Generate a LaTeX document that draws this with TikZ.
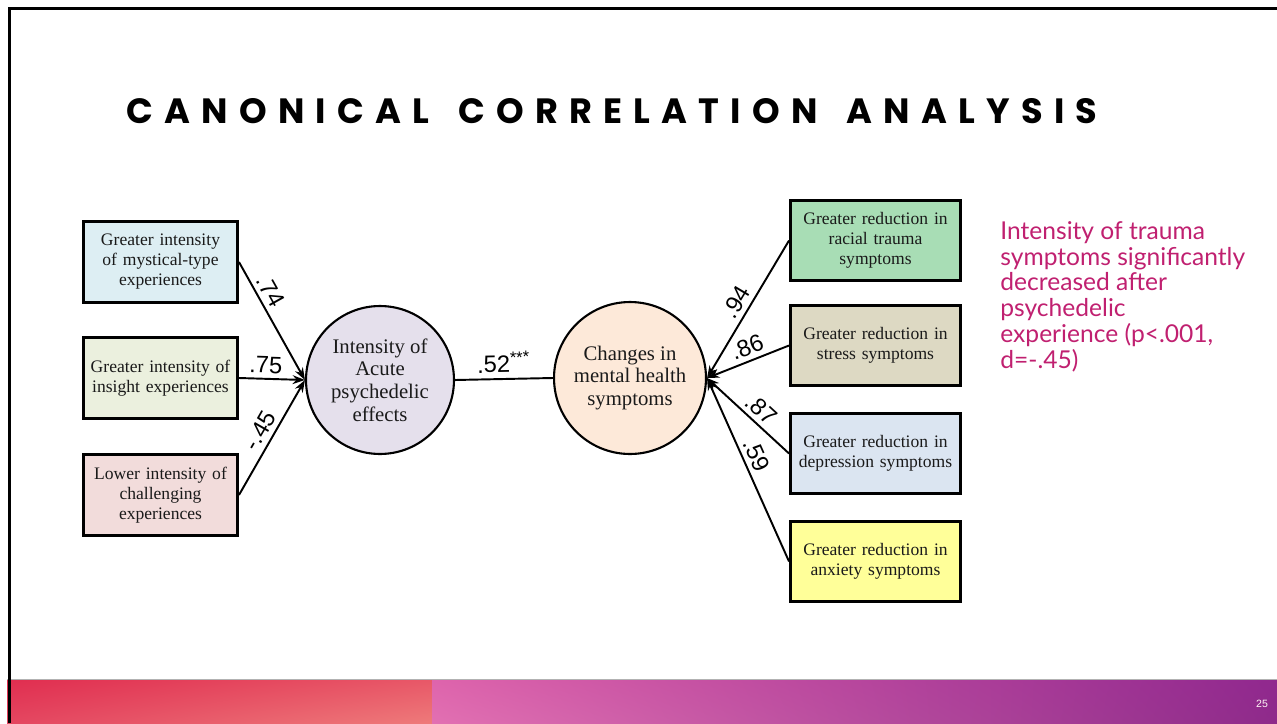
\documentclass[tikz,border=0pt]{standalone}
\usepackage{fontspec}
\setmainfont{Liberation Serif}
\newfontfamily\numfont{Liberation Sans}
\newfontfamily\titlefont[LetterSpace=32, WordSpace=1.55]{Poppins}
\newfontfamily\notefont{Lato}
\usetikzlibrary{arrows.meta, shadings}

\definecolor{boxtext}{HTML}{1A1A1A}
\definecolor{mysticfill}{HTML}{DDEEF3}
\definecolor{insightfill}{HTML}{EBF0DE}
\definecolor{challfill}{HTML}{F2DCDB}
\definecolor{acutefill}{HTML}{E5E0EC}
\definecolor{mentalfill}{HTML}{FDE9D9}
\definecolor{racialfill}{HTML}{A8DDB5}
\definecolor{stressfill}{HTML}{DDD9C3}
\definecolor{depressfill}{HTML}{DBE5F1}
\definecolor{anxietyfill}{HTML}{FFFF99}
\definecolor{notecolor}{RGB}{192,32,112}
\definecolor{barA}{RGB}{224,46,80}
\definecolor{barB}{RGB}{232,88,104}
\definecolor{barC}{RGB}{228,70,96}
\definecolor{barD}{RGB}{238,122,122}
\definecolor{barE}{RGB}{222,100,172}
\definecolor{barF}{RGB}{144,40,142}
\definecolor{barG}{RGB}{226,112,178}
\definecolor{barH}{RGB}{142,42,138}

\begin{document}
\begin{tikzpicture}[x=0.02cm, y=-0.02cm,
    varbox/.style={draw, line width=1.7pt, align=center, inner sep=0pt,
        text=boxtext, font=\fontsize{10}{11.4}\selectfont},
    leftbox/.style={varbox, minimum width=3.08cm, minimum height=1.62cm, text width=2.95cm},
    rightbox/.style={varbox, minimum width=3.4cm, minimum height=1.6cm, text width=3.4cm},
    latent/.style={circle, draw, line width=1.2pt, align=center, inner sep=0pt,
        text=boxtext, font=\fontsize{11.8}{12.9}\selectfont},
    path/.style={line width=1.1pt, -{Stealth[length=7pt, width=5pt]}},
    weight/.style={font=\numfont\fontsize{13.5}{15}\selectfont, inner sep=2.6pt, sloped, above}]
    \useasboundingbox (0,0) rectangle (1277,723);

    % Frame of the slide
    \draw[line width=1.7pt] (9.5,723) -- (9.5,8.5) -- (1277,8.5);

    % Title
    \node[font=\titlefont\bfseries\fontsize{20}{24}\selectfont, inner sep=0pt]
        (title) at (612,111) {CANONICAL CORRELATION ANALYSIS};

    % Acute effects (left side)
    \node[leftbox, fill=mysticfill] (mystic) at (160.5,262)
        {Greater intensity\\ of mystical-type\\ experiences};
    \node[leftbox, fill=insightfill] (insight) at (160.5,378)
        {Greater intensity of\\ insight experiences};
    \node[leftbox, fill=challfill] (chall) at (160.5,495)
        {Lower intensity of\\ challenging\\ experiences};

    % Latent variables
    \node[latent, fill=acutefill, minimum size=2.96cm] (acute) at (380,380)
        {Intensity of\\ Acute\\ psychedelic\\ effects};
    \node[latent, fill=mentalfill, minimum size=3.04cm] (mental) at (630,378)
        {Changes in\\ mental health\\ symptoms};

    % Mental health changes (right side)
    \node[rightbox, fill=racialfill] (racial) at (875.5,240.5)
        {Greater reduction in\\ racial trauma\\ symptoms};
    \node[rightbox, fill=stressfill] (stress) at (875.5,345.5)
        {Greater reduction in\\ stress symptoms};
    \node[rightbox, fill=depressfill] (depress) at (875.5,453.5)
        {Greater reduction in\\ depression symptoms};
    \node[rightbox, fill=anxietyfill] (anxiety) at (875.5,561.5)
        {Greater reduction in\\ anxiety symptoms};

    % Loadings
    \draw[path] (mystic.east) -- node[weight, pos=0.3] {.74} (acute.west);
    \draw[path] (insight.east) -- node[weight, pos=0.4] {.75} (acute.west);
    \draw[path] (chall.east) -- node[weight, pos=0.5] {-.45} (acute.west);
    \draw[path] (racial.west) -- node[weight, pos=0.5] {.94} (mental.east);
    \draw[path] (stress.west) -- node[weight, pos=0.45] {.86} (mental.east);
    \draw[path] (depress.west) -- node[weight, pos=0.45] {.87} (mental.east);
    \draw[path] (anxiety.west) -- node[weight, pos=0.55] {.59} (mental.east);

    % Canonical correlation
    \draw[line width=1.1pt] (acute.east) -- node[weight, pos=0.5, inner sep=3pt]
        {.52\textsuperscript{***}} (mental.west);

    % Note
    \node[anchor=north west, align=left, inner sep=0pt, text=notecolor,
        font=\notefont\fontsize{14}{14.7}\selectfont] (note) at (1000,221)
        {Intensity of trauma\\ symptoms significantly\\ decreased after\\
         psychedelic\\ experience (p<.001,\\ d=-.45)};

    % Footer
    \shade[upper left=barA, upper right=barB, lower left=barC, lower right=barD]
        (7,680) rectangle (432,723);
    \shade[upper left=barE, upper right=barF, lower left=barG, lower right=barH]
        (432,680) rectangle (1277,723);
    \draw[gray!60, line width=0.6pt] (7,679.5) -- (1277,679.5);
    \draw[line width=1.7pt] (9.5,679) -- (9.5,723);
    \node[text=white!85!pink, font=\numfont\fontsize{6}{7}\selectfont, inner sep=0pt]
        (page) at (1262,704) {25};
\end{tikzpicture}
\end{document}
